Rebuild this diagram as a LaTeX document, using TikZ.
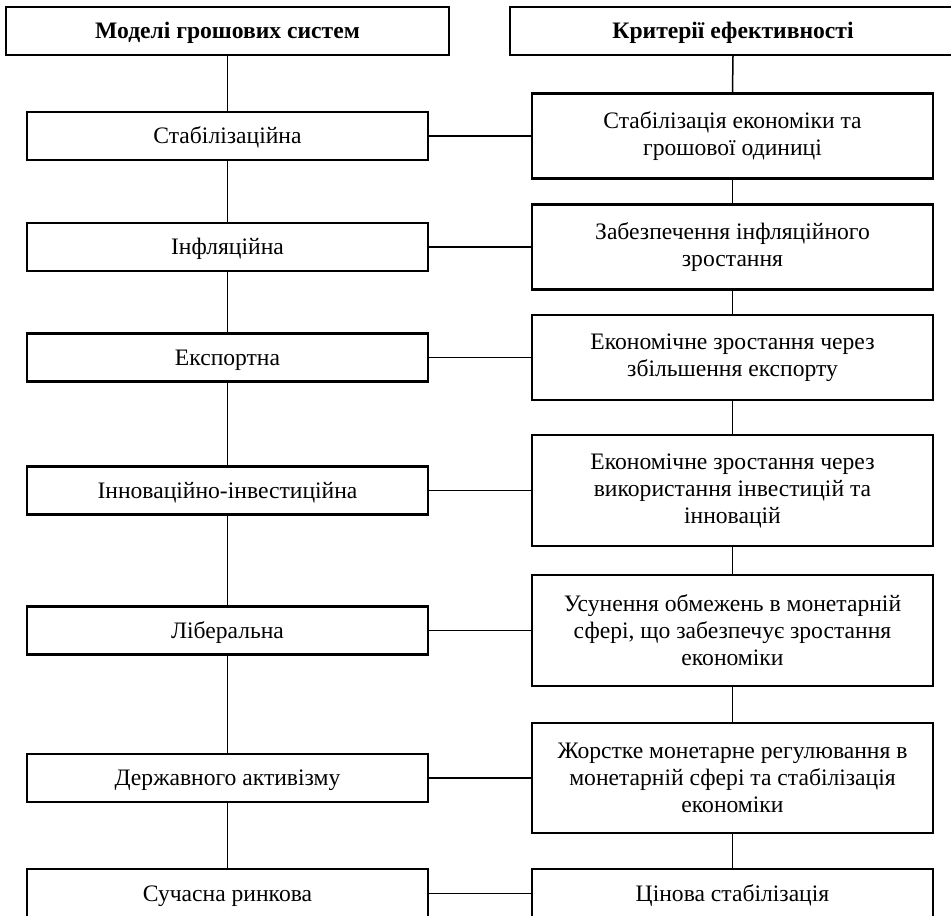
\documentclass[tikz,border=0pt]{standalone}
\usepackage{fontspec}
\setmainfont{Liberation Serif}
\begin{document}
\begin{tikzpicture}[x=1pt,y=-1pt,
  box/.style={draw=black,line width=2.1pt,fill=white,align=center,inner sep=0pt,
    font=\fontsize{23.6}{27}\selectfont},
  lbox/.style={box,minimum width=401pt,minimum height=48pt,text height=20pt,text depth=5pt},
  rbox/.style={box,minimum width=401pt},
  hbox/.style={box,minimum height=48pt,text height=20pt,text depth=5pt,
    font=\fontsize{23.6}{27}\selectfont\bfseries},
  conn/.style={line width=1.5pt}]
\useasboundingbox (0,0) rectangle (951,916);
\clip (0,0) rectangle (951,916);
% headers
\node[hbox,minimum width=443pt] (hl) at (227.5,31) {Моделі грошових систем};
\node[hbox,minimum width=446pt] (hr) at (733,31) {Критерії ефективності};
% left column
\node[lbox] (l1) at (227.5,136) {Стабілізаційна};
\node[lbox] (l2) at (227.5,247) {Інфляційна};
\node[lbox] (l3) at (227.5,357.5) {Експортна};
\node[lbox] (l4) at (227.5,490.5) {Інноваційно-інвестиційна};
\node[lbox] (l5) at (227.5,630.5) {Ліберальна};
\node[lbox] (l6) at (227.5,778) {Державного активізму};
\node[lbox,minimum height=49pt] (l7) at (227.5,893.5) {Сучасна ринкова};
% right column
\node[rbox,minimum height=85pt] (r1) at (732.5,136) {Стабілізація економіки та\\грошової одиниці};
\node[rbox,minimum height=85pt] (r2) at (732.5,247) {Забезпечення інфляційного\\зростання};
\node[rbox,minimum height=85pt] (r3) at (732.5,357.5) {Економічне зростання через\\збільшення експорту};
\node[rbox,minimum height=111pt] (r4) at (732.5,490.5) {Економічне зростання через\\використання інвестицій та\\інновацій};
\node[rbox,minimum height=111pt] (r5) at (732.5,630.5) {Усунення обмежень в монетарній\\сфері, що забезпечує зростання\\економіки};
\node[rbox,minimum height=110pt] (r6) at (732.5,778) {Жорстке монетарне регулювання в\\монетарній сфері та стабілізація\\економіки};
\node[rbox,minimum height=49pt,text height=20pt,text depth=5pt] (r7) at (732.5,893.5) {Цінова стабілізація};
% vertical connectors
\draw[conn] (hl.south) -- (l1.north);
\draw[conn] (hr.south) -- (r1.north);
\foreach \a/\b in {1/2,2/3,3/4,4/5,5/6,6/7}{
  \draw[conn] (l\a.south) -- (l\b.north);
  \draw[conn] (r\a.south) -- (r\b.north);
}
% horizontal connectors
\foreach \i in {1,...,7}{
  \draw[conn] (l\i.east) -- (r\i.west);
}
\end{tikzpicture}
\end{document}
